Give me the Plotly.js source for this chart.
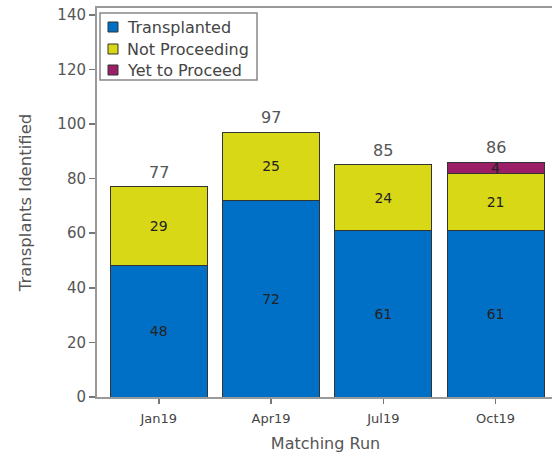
<!DOCTYPE html>
<html>
<head>
<meta charset="utf-8">
<script src="https://cdn.plot.ly/plotly-3.0.1.min.js"></script>
<style>html,body{margin:0;padding:0;background:#fff;overflow:hidden;}</style>
</head>
<body>
<div id="chart" style="width:560px;height:458px;"></div>
<script>
const categories = ["Jan19", "Apr19", "Jul19", "Oct19"];
const transplanted = [48, 72, 61, 61];
const notProceeding = [29, 25, 24, 21];
const yetToProceed = [0, 0, 0, 4];
const seriesNames = ["Transplanted", "Not Proceeding", "Yet to Proceed"];
const seriesColors = ["#0070C6", "#D8D816", "#9A1F66"];
const totals = categories.map((c, i) => transplanted[i] + notProceeding[i] + yetToProceed[i]);

const fontFam = "DejaVu Sans, Verdana, sans-serif";
const M = {l: 97, r: 6, t: 8, b: 61}, W = 560, H = 458;
const PW = W - M.l - M.r, PH = H - M.t - M.b;
const px = x => (x - M.l) / PW;
const py = y => (H - M.b - y) / PH;

function lbl(arr) { return arr.map(v => v > 0 ? String(v) : ""); }
function barTrace(name, vals, color) {
  return {
    type: "bar", name: name, x: categories, y: vals,
    text: lbl(vals), textposition: "inside", insidetextanchor: "middle",
    constraintext: "none", textangle: 0,
    textfont: {family: fontFam, size: 14, color: "#222"},
    marker: {color: color, line: {color: "#333", width: 1}},
    hoverinfo: "skip", showlegend: false
  };
}
const traces = [
  barTrace(seriesNames[0], transplanted, seriesColors[0]),
  barTrace(seriesNames[1], notProceeding, seriesColors[1]),
  barTrace(seriesNames[2], yetToProceed, seriesColors[2])
];

const annotations = categories.map((c, i) => ({
  x: c, y: totals[i], xref: "x", yref: "y", text: String(totals[i]),
  showarrow: false, yanchor: "bottom", yshift: 3,
  font: {family: fontFam, size: 16, color: "#555"}
}));
const shapes = [{
  type: "rect", xref: "paper", yref: "paper",
  x0: px(100), x1: px(257), y0: py(80), y1: py(13),
  line: {color: "#888", width: 1.5}, fillcolor: "#fff", layer: "above"
}];
const rowY = [27, 49, 70];
seriesNames.forEach((n, k) => {
  shapes.push({
    type: "rect", xref: "paper", yref: "paper",
    x0: px(108), x1: px(118), y0: py(rowY[k] + 5), y1: py(rowY[k] - 5),
    line: {color: "#333", width: 1}, fillcolor: seriesColors[k], layer: "above"
  });
  annotations.push({
    xref: "paper", yref: "paper", x: px(125), y: py(rowY[k]),
    xanchor: "left", yanchor: "middle", text: n, showarrow: false,
    font: {family: fontFam, size: 16, color: "#444"}
  });
});

const layout = {
  width: W, height: H, margin: M,
  barmode: "stack", bargap: 0.136,
  paper_bgcolor: "#fff", plot_bgcolor: "#fff",
  font: {family: fontFam, color: "#555"},
  showlegend: false,
  annotations: annotations, shapes: shapes,
  xaxis: {
    type: "category", range: [-0.55, 3.52],
    showline: true, linecolor: "#999", linewidth: 2, mirror: true,
    ticks: "outside", ticklen: 5, tickcolor: "#777", tickwidth: 1.5,
    ticklabelstandoff: 3,
    tickfont: {family: fontFam, size: 13, color: "#444"},
    showgrid: false, zeroline: false,
    title: {text: "Matching Run", font: {family: fontFam, size: 16, color: "#555"}, standoff: 13}
  },
  yaxis: {
    range: [0, 142.5], tickvals: [0, 20, 40, 60, 80, 100, 120, 140],
    showline: true, linecolor: "#999", linewidth: 2, mirror: true,
    ticks: "outside", ticklen: 6, tickcolor: "#777", tickwidth: 1.5,
    tickfont: {family: fontFam, size: 15, color: "#555"},
    showgrid: false, zeroline: false,
    title: {text: "Transplants Identified", font: {family: fontFam, size: 16.5, color: "#555"}, standoff: 22}
  }
};
Plotly.newPlot("chart", traces, layout, {staticPlot: true, displayModeBar: false});
</script>
</body>
</html>
